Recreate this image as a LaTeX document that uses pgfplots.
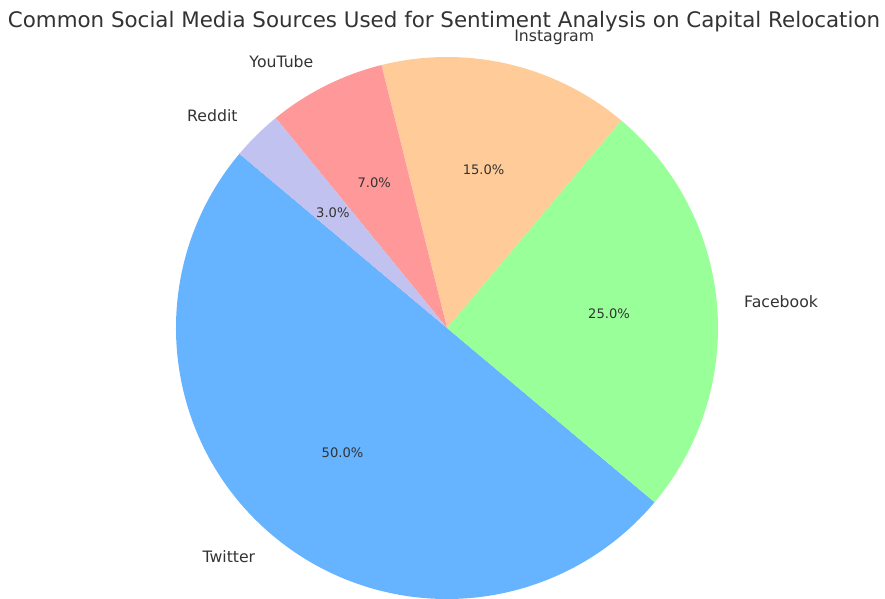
\documentclass[border=0pt]{standalone}
\usepackage{pgfplots}
\usepackage{pgfplotstable}
\usepackage{fontspec}
\setmainfont{DejaVu Sans}
\pgfplotsset{compat=1.18}

\definecolor{tw}{HTML}{66B3FF}
\definecolor{fb}{HTML}{99FF99}
\definecolor{ig}{HTML}{FFCC99}
\definecolor{yt}{HTML}{FF9999}
\definecolor{rd}{HTML}{C2C2F0}
\definecolor{txt}{HTML}{333333}

% share of each source, in percent
\pgfplotstableread{
name      pct col
Twitter   50  tw
Facebook  25  fb
Instagram 15  ig
YouTube   7   yt
Reddit    3   rd
}\piedata

\begin{document}
\begin{tikzpicture}
\begin{axis}[
  x=1pt, y=1pt,
  xmin=0, xmax=885, ymin=0, ymax=598,
  hide axis, clip=false,
]
\def\cx{447}\def\cy{270}\def\r{271}
\gdef\a{140}
\pgfplotsforeachungrouped \i in {0,...,4}{%
  \pgfplotstablegetelem{\i}{pct}\of\piedata \let\p\pgfplotsretval
  \pgfplotstablegetelem{\i}{name}\of\piedata \let\n\pgfplotsretval
  \pgfplotstablegetelem{\i}{col}\of\piedata \let\c\pgfplotsretval
  \pgfmathsetmacro\b{\a+3.6*\p}%
  \pgfmathsetmacro\m{(\a+\b)/2}%
  \pgfmathsetmacro\lx{\cx+1.1*\r*cos(\m)}%
  \pgfmathsetmacro\ly{\cy+1.1*\r*sin(\m)}%
  \pgfmathsetmacro\px{\cx+0.6*\r*cos(\m)}%
  \pgfmathsetmacro\py{\cy+0.6*\r*sin(\m)}%
  \pgfmathparse{cos(\m)>0 ? "west" : "east"}\let\anc\pgfmathresult
  \edef\temp{%
    \noexpand\fill[\c] (axis cs:\cx,\cy) -- (axis cs:{\cx+\r*cos(\a)},{\cy+\r*sin(\a)})
      arc[start angle=\a, end angle=\b, radius=\r pt] -- cycle;
    \noexpand\node[anchor=\anc, inner sep=0pt, text=txt, font=\noexpand\fontsize{15.7}{18}\noexpand\selectfont]
      at (axis cs:\lx,\ly) {\n};
    \noexpand\node[inner sep=0pt, text=txt, font=\noexpand\fontsize{13.1}{15}\noexpand\selectfont]
      at (axis cs:\px,\py) {\p.0\noexpand\%};
  }\temp
  \global\let\a\b
}
\node[text=txt, inner sep=0pt, font=\fontsize{21.4}{25}\selectfont]
  at (axis cs:444,576.5) {Common Social Media Sources Used for Sentiment Analysis on Capital Relocation};
\end{axis}
\pgfresetboundingbox
\path[use as bounding box] (current axis.south west) rectangle (current axis.north east);
\end{tikzpicture}
\end{document}
